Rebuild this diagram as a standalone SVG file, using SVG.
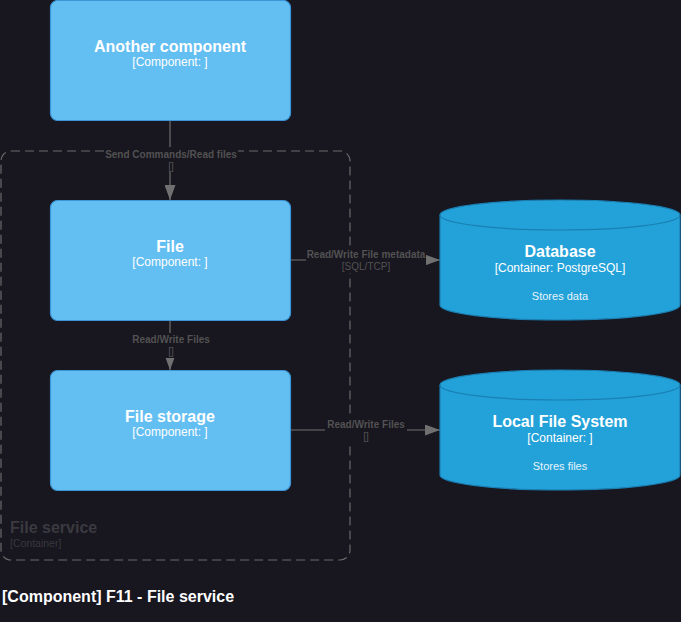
<svg xmlns="http://www.w3.org/2000/svg" width="681" height="622" viewBox="0 0 681 622">
<style>
text{font-family:"Liberation Sans",Arial,sans-serif}
.comp{fill:#63bef2;stroke:#3a94d6;stroke-width:1.2}
.cyl{fill:#23a2d9;stroke:#1a7fb3;stroke-width:1.2}
.t{fill:#ffffff;font-weight:bold;font-size:16px;text-anchor:middle}
.s{fill:#ffffff;font-size:12px;text-anchor:middle}
.d{fill:#e6f4fb;font-size:11px;text-anchor:middle}
.line{stroke:#707070;stroke-width:1.2;fill:none}
.lbl{fill:#525252;font-size:10px;font-weight:bold;text-anchor:middle}
.lbl2{fill:#525252;font-size:10px;text-anchor:middle}
.lbg{fill:#18161f}
</style>
<defs>
<marker id="ah" viewBox="0 0 15 11" refX="15" refY="5.5" markerWidth="15" markerHeight="11" markerUnits="userSpaceOnUse" orient="auto">
<path d="M0,0 L15,5.5 L0,11 z" fill="#707070"/>
</marker>
</defs>
<rect width="681" height="622" fill="#18161f"/>
<g id="container-file-service">
<rect x="1" y="151" width="349" height="409" rx="10" fill="none" stroke="#6a6a6a" stroke-width="1.2" stroke-dasharray="9,5"/>
<text x="10" y="533" style="fill:#3a3a3f;font-size:16px;font-weight:bold">File service</text>
<text x="10" y="547" style="fill:#38383d;font-size:10.5px">[Container]</text>
</g>
<g id="connectors">
<line class="line" x1="170" y1="121" x2="170" y2="200" marker-end="url(#ah)"/>
<rect class="lbg" x="104" y="147" width="134" height="25"/>
<text class="lbl" x="171" y="158">Send Commands/Read files</text>
<text class="lbl2" x="171" y="170">[]</text>
<line class="line" x1="291" y1="260" x2="440" y2="260" marker-end="url(#ah)"/>
<rect class="lbg" x="306" y="248" width="120" height="25"/>
<text class="lbl" x="366" y="258">Read/Write File metadata</text>
<text class="lbl2" x="366" y="270">[SQL/TCP]</text>
<line class="line" x1="170" y1="321" x2="170" y2="370" marker-end="url(#ah)"/>
<rect class="lbg" x="130" y="333" width="82" height="25"/>
<text class="lbl" x="171" y="343">Read/Write Files</text>
<text class="lbl2" x="171" y="355">[]</text>
<line class="line" x1="291" y1="430" x2="440" y2="430" marker-end="url(#ah)"/>
<rect class="lbg" x="325" y="418" width="82" height="25"/>
<text class="lbl" x="366" y="428">Read/Write Files</text>
<text class="lbl2" x="366" y="440">[]</text>
</g>
<g id="another-component">
<rect class="comp" x="50.5" y="0.5" width="240" height="120" rx="7"/>
<text class="t" x="170" y="52">Another component</text>
<text class="s" x="170" y="66">[Component: ]</text>
</g>
<g id="file">
<rect class="comp" x="50.5" y="200.5" width="240" height="120" rx="7"/>
<text class="t" x="170" y="252">File</text>
<text class="s" x="170" y="266">[Component: ]</text>
</g>
<g id="file-storage">
<rect class="comp" x="50.5" y="370.5" width="240" height="120" rx="7"/>
<text class="t" x="170" y="422">File storage</text>
<text class="s" x="170" y="436">[Component: ]</text>
</g>
<g id="database">
<path class="cyl" d="M440,215 A120,15 0 0 1 680,215 L680,305 A120,15 0 0 1 440,305 Z"/>
<path d="M440,215 A120,15 0 0 0 680,215" fill="none" stroke="#1a7fb3" stroke-width="1.2"/>
<text class="t" x="560" y="257">Database</text>
<text class="s" x="560" y="272">[Container: PostgreSQL]</text>
<text class="d" x="560" y="300">Stores data</text>
</g>
<g id="local-file-system">
<path class="cyl" d="M440,385 A120,15 0 0 1 680,385 L680,475 A120,15 0 0 1 440,475 Z"/>
<path d="M440,385 A120,15 0 0 0 680,385" fill="none" stroke="#1a7fb3" stroke-width="1.2"/>
<text class="t" x="560" y="427">Local File System</text>
<text class="s" x="560" y="442">[Container: ]</text>
<text class="d" x="560" y="470">Stores files</text>
</g>
<text x="2" y="602" style="fill:#ffffff;font-size:16px;font-weight:bold">[Component] F11 - File service</text>
</svg>
